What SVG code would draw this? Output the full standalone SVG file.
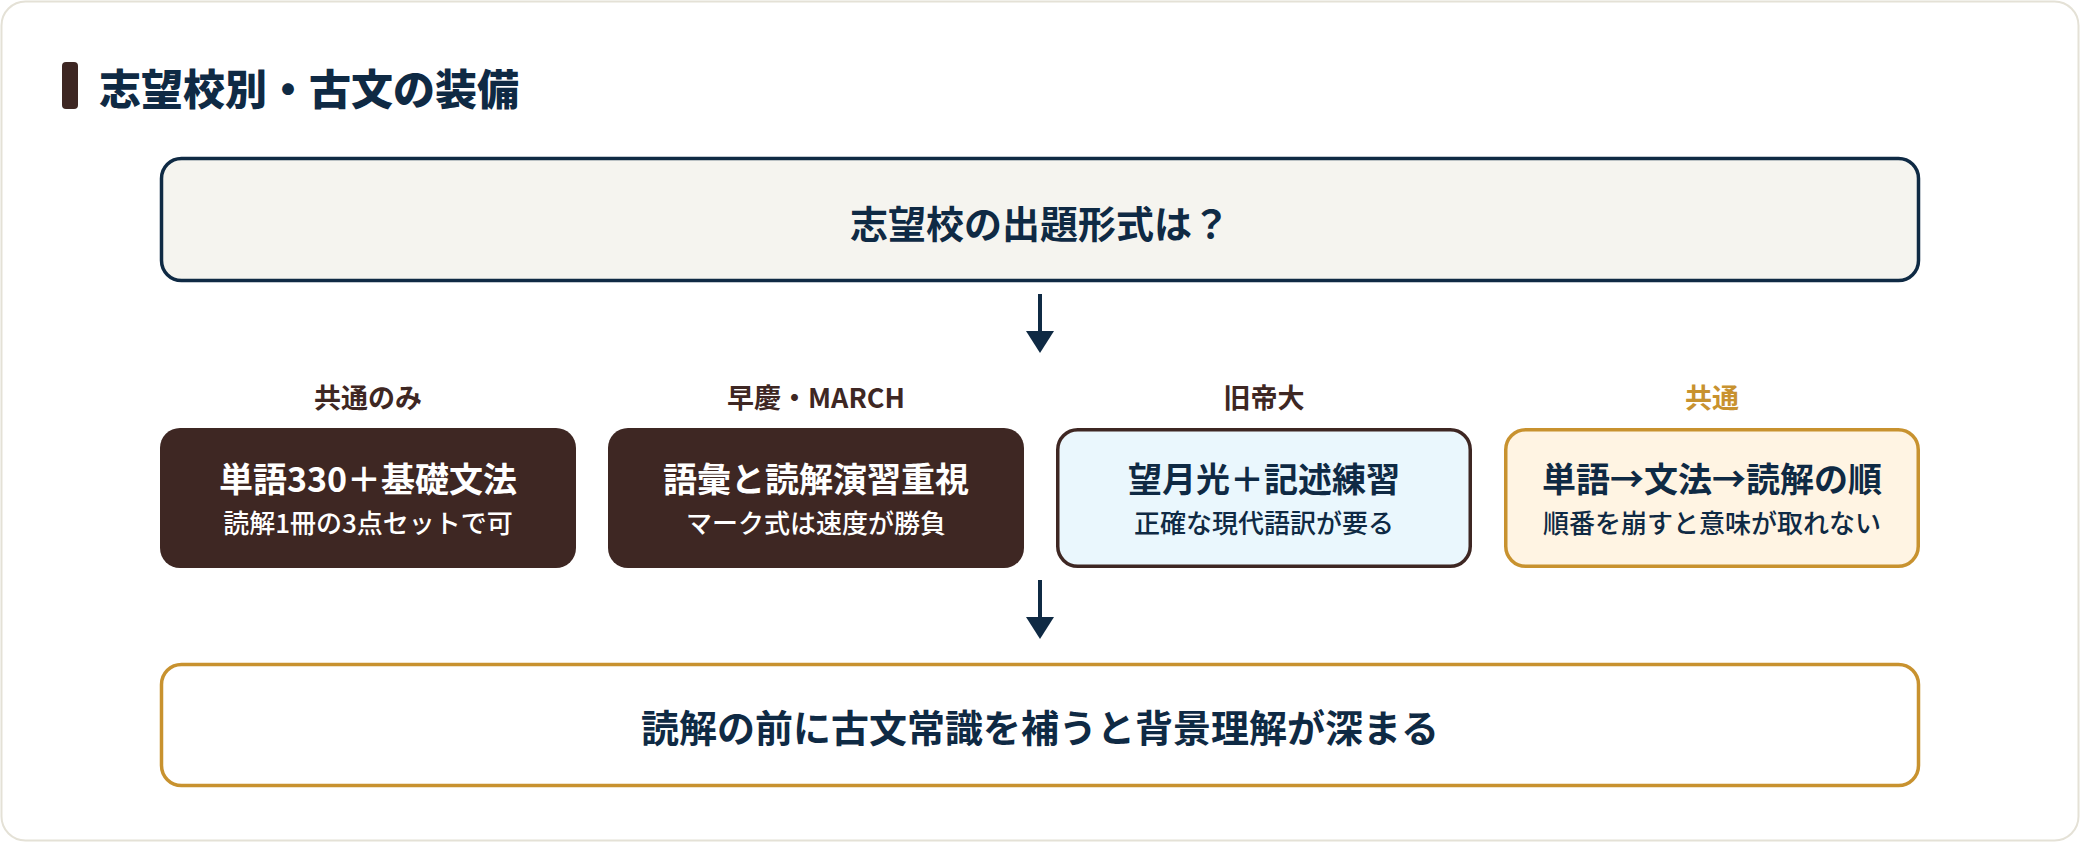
<svg xmlns="http://www.w3.org/2000/svg" width="2080" height="842" viewBox="0 0 2080 842">
  <defs>
    <marker id="ah" viewBox="0 0 22 28" refX="0" refY="14" markerWidth="22" markerHeight="28" markerUnits="userSpaceOnUse" orient="auto">
      <path d="M0,0 L22,14 L0,28 z" fill="#0f2a44"/>
    </marker>
    <style>
      text { font-family: "Noto Sans CJK JP", "Noto Sans", sans-serif; text-anchor: middle; }
      .title { font-size: 42px; font-weight: 900; fill: #0f2a44; text-anchor: start; }
      .q { font-size: 38px; font-weight: 700; fill: #0f2a44; }
      .lbl { font-size: 27px; font-weight: 700; fill: #3e2723; }
      .lbl-gold { fill: #c8922f; }
      .main { font-size: 34px; font-weight: 700; }
      .sub { font-size: 26px; font-weight: 500; }
      .light { fill: #ffffff; }
      .dark { fill: #0f2a44; }
      .conn { stroke: #0f2a44; stroke-width: 4; fill: none; }
    </style>
  </defs>

  <rect x="1.5" y="1.5" width="2077" height="839" rx="24" fill="#ffffff" stroke="#e4e1d6" stroke-width="2"/>

  <g id="title">
    <rect x="62" y="62" width="16" height="47" rx="4" fill="#3e2723"/>
    <text class="title" x="99" y="105">志望校別・古文の装備</text>
  </g>

  <g id="question">
    <rect x="161.5" y="158.5" width="1757" height="122" rx="20" fill="#f5f4ef" stroke="#0f2a44" stroke-width="3.5"/>
    <text class="q" x="1040" y="238">志望校の出題形式は？</text>
  </g>

  <g id="connectors">
    <line class="conn" x1="1040" y1="294" x2="1040" y2="331" marker-end="url(#ah)"/>
    <line class="conn" x1="1040" y1="580" x2="1040" y2="617" marker-end="url(#ah)"/>
  </g>

  <g id="node-kyotsu-nomi">
    <text class="lbl" x="368" y="408">共通のみ</text>
    <rect x="160" y="428" width="416" height="140" rx="20" fill="#3e2723"/>
    <text class="main light" x="368" y="492">単語330＋基礎文法</text>
    <text class="sub light" x="368" y="533">読解1冊の3点セットで可</text>
  </g>

  <g id="node-sokei-march">
    <text class="lbl" x="816" y="408">早慶・MARCH</text>
    <rect x="608" y="428" width="416" height="140" rx="20" fill="#3e2723"/>
    <text class="main light" x="816" y="492">語彙と読解演習重視</text>
    <text class="sub light" x="816" y="533">マーク式は速度が勝負</text>
  </g>

  <g id="node-kyuteidai">
    <text class="lbl" x="1264" y="408">旧帝大</text>
    <rect x="1057.75" y="429.75" width="412.5" height="136.5" rx="20" fill="#eaf7fd" stroke="#3e2723" stroke-width="3.5"/>
    <text class="main dark" x="1264" y="492">望月光＋記述練習</text>
    <text class="sub dark" x="1264" y="533">正確な現代語訳が要る</text>
  </g>

  <g id="node-kyotsu">
    <text class="lbl lbl-gold" x="1712" y="408">共通</text>
    <rect x="1505.75" y="429.75" width="412.5" height="136.5" rx="20" fill="#fff4e3" stroke="#c8922f" stroke-width="3.5"/>
    <text class="main dark" x="1712" y="492">単語→文法→読解の順</text>
    <text class="sub dark" x="1712" y="533">順番を崩すと意味が取れない</text>
  </g>

  <g id="conclusion">
    <rect x="161.5" y="664.5" width="1757" height="121" rx="20" fill="#ffffff" stroke="#c8922f" stroke-width="3.5"/>
    <text class="q" x="1040" y="742">読解の前に古文常識を補うと背景理解が深まる</text>
  </g>
</svg>
